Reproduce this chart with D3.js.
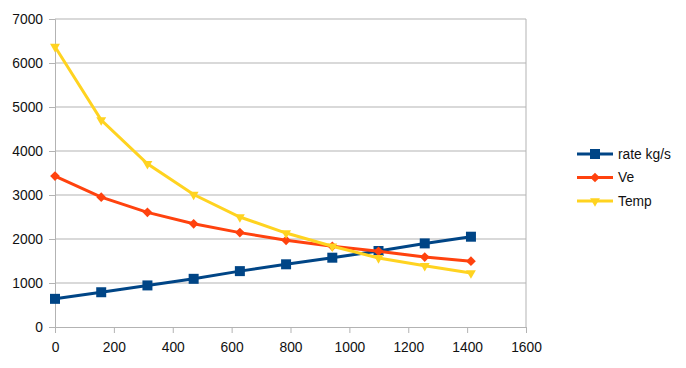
<!DOCTYPE html>
<html>
<head>
<meta charset="utf-8">
<script src="https://cdn.jsdelivr.net/npm/d3@7"></script>
<style>
  body { margin: 0; background: #fff; }
  text { font-family: "Liberation Sans", Arial, sans-serif; }
</style>
</head>
<body>
<div id="chart"></div>
<script>
// data
const xValues = [0, 157, 314, 471, 628, 785, 942, 1099, 1256, 1413]
const rate = [640, 790, 945, 1095, 1270, 1425, 1575, 1727, 1900, 2052]
const ve = [3430, 2950, 2606, 2345, 2145, 1970, 1833, 1720, 1590, 1495]
const temp = [6370, 4705, 3710, 3010, 2500, 2135, 1835, 1570, 1390, 1225]
const xTicks = [0, 200, 400, 600, 800, 1000, 1200, 1400, 1600]
const yTicks = [0, 1000, 2000, 3000, 4000, 5000, 6000, 7000]

const series = [
  { name: "rate kg/s", values: rate, color: "#004586", marker: "square" },
  { name: "Ve", values: ve, color: "#ff420e", marker: "diamond" },
  { name: "Temp", values: temp, color: "#ffd320", marker: "triangle" }
]

const width = 686, height = 368
const svg = d3.select("#chart").append("svg")
  .attr("width", width)
  .attr("height", height)

const x = d3.scaleLinear().domain([0, 1600]).range([55, 526])
const y = d3.scaleLinear().domain([0, 7000]).range([327, 19])

// grid lines
svg.append("g")
  .selectAll("line")
  .data(yTicks.filter(d => d > 0))
  .join("line")
  .attr("x1", x(0)).attr("x2", x(1600))
  .attr("y1", d => y(d)).attr("y2", d => y(d))
  .attr("stroke", "#b3b3b3")
  .attr("stroke-width", 1)

// right border
svg.append("line")
  .attr("x1", x(1600)).attr("x2", x(1600))
  .attr("y1", y(7000)).attr("y2", y(0))
  .attr("stroke", "#b3b3b3")

const yAxis = svg.append("g")
  .attr("transform", `translate(${x(0)},0)`)
  .call(d3.axisLeft(y).tickValues(yTicks).tickSize(6).tickPadding(6).tickFormat(d3.format("d")))
const xAxis = svg.append("g")
  .attr("transform", `translate(0,${y(0)})`)
  .call(d3.axisBottom(x).tickValues(xTicks).tickSize(6).tickPadding(9).tickFormat(d3.format("d")))

for (const ax of [xAxis, yAxis]) {
  ax.select(".domain").attr("stroke", "#b3b3b3")
  ax.selectAll(".tick line").attr("stroke", "#b3b3b3")
  ax.selectAll("text").attr("font-size", 13.8).attr("fill", "#111")
    .style("font-family", '"Liberation Sans", Arial, sans-serif')
}

const symbolFor = {
  square: d3.symbol().type(d3.symbolSquare).size(100),
  diamond: d3.symbol().type(d3.symbolDiamond2).size(60),
  triangle: d3.symbol().type(d3.symbolTriangle2).size(70)
}

const line = d3.line()
  .x((d, i) => x(xValues[i]))
  .y(d => y(d))

series.forEach(s => {
  const g = svg.append("g")
  g.append("path")
    .datum(s.values)
    .attr("d", line)
    .attr("fill", "none")
    .attr("stroke", s.color)
    .attr("stroke-width", 3)
  g.selectAll("path.mk")
    .data(s.values)
    .join("path")
    .attr("class", "mk")
    .attr("d", symbolFor[s.marker]())
    .attr("transform", (d, i) => `translate(${x(xValues[i])},${y(d)})` + (s.marker == "triangle" ? " rotate(180)" : ""))
    .attr("fill", s.color)
})

// legend
const legend = svg.append("g")
series.forEach((s, i) => {
  const ly = 154 + i * 23.5
  legend.append("line")
    .attr("x1", 577).attr("x2", 613)
    .attr("y1", ly).attr("y2", ly)
    .attr("stroke", s.color).attr("stroke-width", 3)
  legend.append("path")
    .attr("d", symbolFor[s.marker]())
    .attr("transform", `translate(595,${ly})` + (s.marker == "triangle" ? " rotate(180)" : ""))
    .attr("fill", s.color)
  legend.append("text")
    .attr("x", 618).attr("y", ly)
    .attr("dy", "0.35em")
    .attr("font-size", 13.8)
    .attr("fill", "#111")
    .text(s.name)
})
</script>
</body>
</html>
